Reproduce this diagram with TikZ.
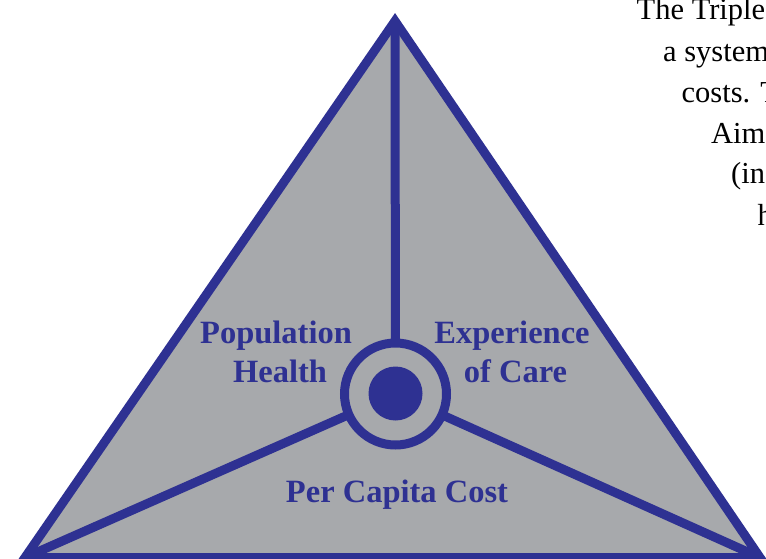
\documentclass[tikz,border=0pt]{standalone}
\usepackage{fontspec}
\setmainfont{Liberation Serif}
\definecolor{tblue}{RGB}{46,49,146}
\definecolor{tgray}{RGB}{167,169,172}
\tikzset{
  edge/.style={draw=tblue, line width=9pt},
  label/.style={text=tblue, font=\fontsize{32.5}{38}\selectfont\bfseries, inner sep=0pt, anchor=base},
  para/.style={text=black, font=\fontsize{30.5}{36}\selectfont, inner sep=0pt, anchor=base west}
}
\begin{document}
\begin{tikzpicture}[x=1pt,y=-1pt]
\useasboundingbox (0,0) rectangle (766,559);
\clip (0,0) rectangle (766,559);
\fill[white] (0,0) rectangle (766,559);
\coordinate (A) at (395,21);
\coordinate (B) at (25,557.5);
\coordinate (C) at (760,557.5);
% triangle fill
\fill[tgray] (A) -- (B) -- (C) -- cycle;
% hub
\node[circle, minimum size=102pt, inner sep=0pt, outer sep=0pt] (hub) at (395.5,394) {};
\draw[edge] (hub) -- (A);
\draw[edge] (hub) -- (B);
\draw[edge] (hub) -- (C);
\node[circle, edge, fill=tgray, minimum size=102pt, inner sep=0pt, outer sep=0pt] (ring) at (395.5,394) {};
\node[circle, fill=tblue, minimum size=54pt, inner sep=0pt] (core) at (395.5,393.5) {};
% triangle border
\draw[edge, line join=miter] (A) -- (B) -- (C) -- cycle;
% labels
\node[label] (pop) at (276,343) {Population};
\node[label] (hea) at (280,382) {Health};
\node[label] (exp) at (512,343) {Experience};
\node[label] (ofc) at (515.5,382) {of Care};
\node[label] (pcc) at (397,502) {Per Capita Cost};
% paragraph fragments
\node[para] (p1) at (636.5,20) {The Triple};
\node[para] (p2) at (663,61.5) {a system};
\node[para] (p3) at (681.5,102.5) {costs. T};
\node[para] (p4) at (711,144) {Aim};
\node[para] (p5) at (731,184) {(inc};
\node[para] (p6) at (757.5,225) {h};
\end{tikzpicture}
\end{document}
